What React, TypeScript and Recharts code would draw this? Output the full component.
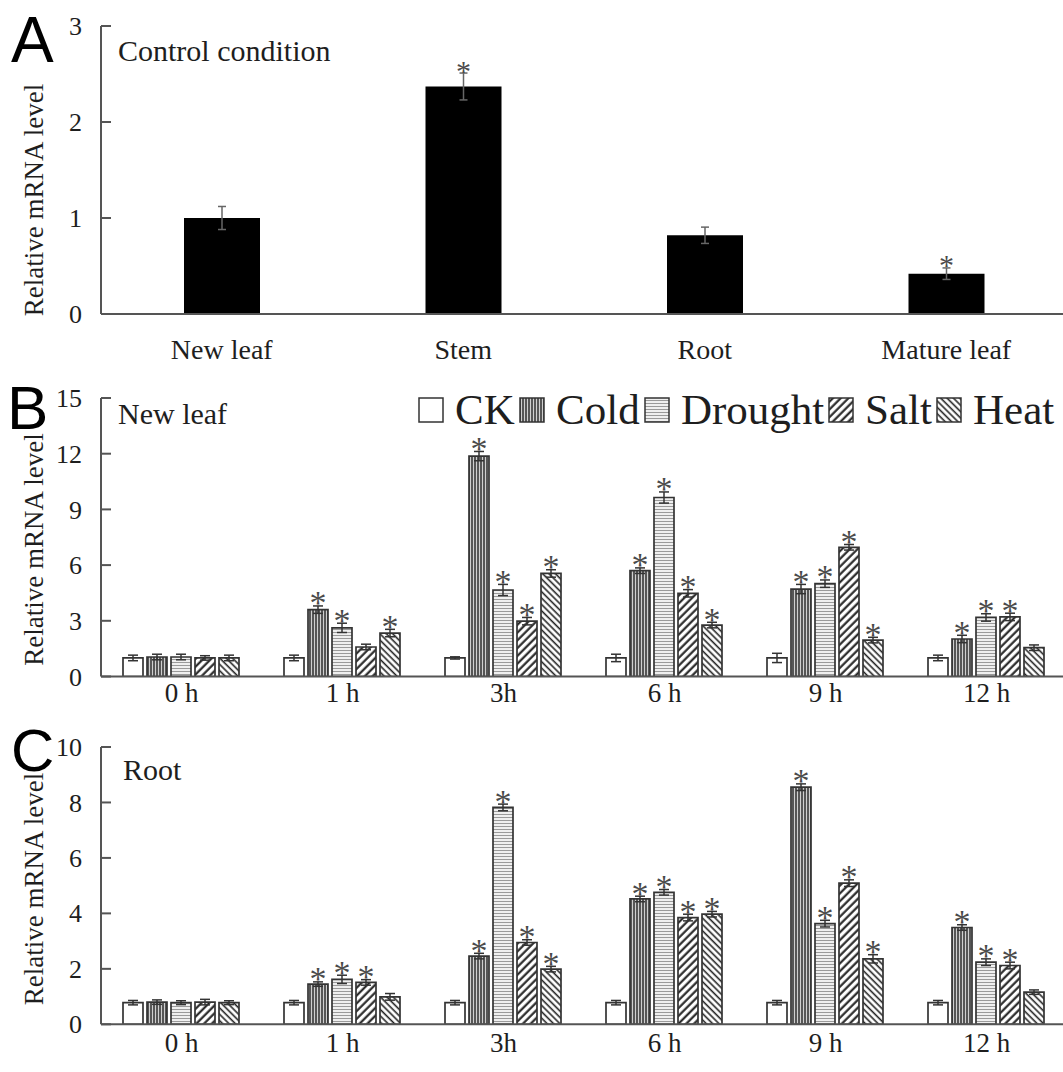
import React from "react";
import { Bar, BarChart, ErrorBar, LabelList, XAxis, YAxis } from "recharts";

const SERIF = '"Liberation Serif", "Times New Roman", serif';
const SANS = '"Liberation Sans", Arial, sans-serif';
const AXIS = "#555";
const INK = "#1e1e1e";

// panel A: control condition
const tissues = ["New leaf", "Stem", "Root", "Mature leaf"];
const tissueLevel = [1.0, 2.37, 0.82, 0.42];
const tissueErr = [0.12, 0.14, 0.085, 0.06];
const tissueSig = [false, true, false, true];

const times = ["0 h", "1 h", "3h", "6 h", "9 h", "12 h"];
const treatments = ["CK", "Cold", "Drought", "Salt", "Heat"];

// panel B: new leaf
const leafCK = [1.0, 1.0, 1.0, 1.0, 1.0, 1.0];
const leafCold = [1.05, 3.6, 11.87, 5.7, 4.71, 2.02];
const leafDrought = [1.05, 2.62, 4.66, 9.64, 5.0, 3.18];
const leafSalt = [1.0, 1.59, 2.98, 4.48, 6.96, 3.21];
const leafHeat = [1.0, 2.34, 5.55, 2.77, 1.96, 1.55];
const leafCKErr = [0.15, 0.15, 0.06, 0.2, 0.25, 0.15];
const leafColdErr = [0.15, 0.2, 0.25, 0.15, 0.25, 0.2];
const leafDroughtErr = [0.15, 0.25, 0.3, 0.3, 0.2, 0.2];
const leafSaltErr = [0.12, 0.15, 0.2, 0.2, 0.15, 0.2];
const leafHeatErr = [0.15, 0.2, 0.2, 0.15, 0.15, 0.15];
const leafSig = [
  [false, false, false, false, false, false],
  [false, true, true, true, true, true],
  [false, true, true, true, true, true],
  [false, false, true, true, true, true],
  [false, true, true, true, true, false],
];

// panel C: root
const rootCK = [0.78, 0.78, 0.78, 0.78, 0.78, 0.78];
const rootCold = [0.8, 1.45, 2.46, 4.52, 8.55, 3.49];
const rootDrought = [0.78, 1.62, 7.82, 4.76, 3.63, 2.24];
const rootSalt = [0.8, 1.51, 2.95, 3.85, 5.09, 2.12];
const rootHeat = [0.78, 0.99, 1.99, 3.97, 2.36, 1.16];
const rootCKErr = [0.08, 0.08, 0.08, 0.08, 0.08, 0.08];
const rootColdErr = [0.08, 0.08, 0.1, 0.1, 0.12, 0.1];
const rootDroughtErr = [0.07, 0.15, 0.12, 0.1, 0.12, 0.12];
const rootSaltErr = [0.1, 0.1, 0.1, 0.12, 0.12, 0.12];
const rootHeatErr = [0.07, 0.12, 0.1, 0.1, 0.15, 0.08];
const rootSig = [
  [false, false, false, false, false, false],
  [false, true, true, true, true, true],
  [false, true, true, true, true, true],
  [false, true, true, true, true, true],
  [false, false, true, true, true, false],
];

const ticksA = [0, 1, 2, 3];
const ticksB = [0, 3, 6, 9, 12, 15];
const ticksC = [0, 2, 4, 6, 8, 10];

const fills: Record<string, string> = {
  CK: "#ffffff",
  Cold: "url(#pCold)",
  Drought: "url(#pDrought)",
  Salt: "url(#pSalt)",
  Heat: "url(#pHeat)",
};

function buildRows(values: number[][], errs: number[][]) {
  return times.map((t, i) => {
    const row: Record<string, any> = { name: t };
    treatments.forEach((k, s) => {
      row[k] = values[s][i];
      row[k + "Err"] = errs[s][i];
    });
    return row;
  });
}

const leafVals = [leafCK, leafCold, leafDrought, leafSalt, leafHeat];
const leafErrs = [leafCKErr, leafColdErr, leafDroughtErr, leafSaltErr, leafHeatErr];
const rootVals = [rootCK, rootCold, rootDrought, rootSalt, rootHeat];
const rootErrs = [rootCKErr, rootColdErr, rootDroughtErr, rootSaltErr, rootHeatErr];
const leafRows = buildRows(leafVals, leafErrs);
const rootRows = buildRows(rootVals, rootErrs);

const tissueRows = tissues.map((t, i) => ({ name: t, level: tissueLevel[i], err: tissueErr[i] }));

// asterisk above the error bar of significant bars
const star = (sig: boolean[], vals: number[], errs: number[], fontSize: number) => (props: any) => {
  const i = props.index;
  if (i == null || !sig[i]) return null;
  const vb = props.viewBox ?? props;
  const { x, y, width, height } = vb;
  if (!height) return null;
  const top = y - (errs[i] * height) / vals[i];
  return (
    <text x={x + width / 2} y={top + fontSize * 0.25} textAnchor="middle" fontSize={fontSize} fill="#4a4a4a" fontFamily={SERIF}>
      *
    </text>
  );
};

const YTick = (props: any) => {
  const { x, y, payload } = props;
  return (
    <g>
      <line x1={x + 19} x2={x + 29} y1={y} y2={y} stroke={AXIS} strokeWidth={2} />
      <text x={x} y={y} dy="0.35em" textAnchor="end" fontSize={26} fontFamily={SERIF} fill={INK}>
        {payload.value}
      </text>
    </g>
  );
};

const yLabel = (cy: number) => () => (
  <text
    x={43}
    y={cy}
    transform={`rotate(-90 43 ${cy})`}
    textAnchor="middle"
    fontSize={27}
    fontFamily={SERIF}
    fill={INK}
  >
    Relative mRNA level
  </text>
);

function ControlChart() {
  return (
    <BarChart width={1067} height={370} data={tissueRows} margin={{ top: 26, right: 0, left: 41, bottom: 16 }}>
      <XAxis
        dataKey="name"
        height={40}
        interval={0}
        tickLine={false}
        tickSize={0}
        tickMargin={25}
        axisLine={{ stroke: AXIS, strokeWidth: 2 }}
        tick={{ fontSize: 28, fill: INK, fontFamily: SERIF }}
      />
      <YAxis
        width={60}
        domain={[0, 3]}
        ticks={ticksA}
        allowDataOverflow
        tickLine={false}
        tickSize={0}
        tickMargin={19}
        axisLine={{ stroke: AXIS, strokeWidth: 2 }}
        tick={<YTick />}
        label={{ value: "Relative mRNA level", content: yLabel(200) }}
      />
      <Bar dataKey="level" fill="#000" barSize={76} isAnimationActive={false}>
        <ErrorBar dataKey="err" width={4} stroke="#666" strokeWidth={1.5} />
        <LabelList dataKey="level" content={star(tissueSig, tissueLevel, tissueErr, 30)} />
      </Bar>
    </BarChart>
  );
}

function TimeChart({
  rows,
  vals,
  errs,
  sig,
  max,
  ticks,
  height,
  top,
  bottom,
  labelGap,
  labelY,
}: {
  rows: any[];
  vals: number[][];
  errs: number[][];
  sig: boolean[][];
  max: number;
  ticks: number[];
  height: number;
  top: number;
  bottom: number;
  labelGap: number;
  labelY: number;
}) {
  return (
    <BarChart
      width={1067}
      height={height}
      data={rows}
      margin={{ top, right: 0, left: 41, bottom }}
      barCategoryGap={22}
      barGap={4}
    >
      <XAxis
        dataKey="name"
        height={40}
        interval={0}
        tickLine={false}
        tickSize={0}
        tickMargin={labelGap}
        axisLine={{ stroke: AXIS, strokeWidth: 2 }}
        tick={{ fontSize: 27, fill: INK, fontFamily: SERIF }}
      />
      <YAxis
        width={60}
        domain={[0, max]}
        ticks={ticks}
        allowDataOverflow
        tickLine={false}
        tickSize={0}
        tickMargin={19}
        axisLine={{ stroke: AXIS, strokeWidth: 2 }}
        tick={<YTick />}
        label={{ value: "Relative mRNA level", content: yLabel(labelY) }}
      />
      {treatments.map((k, s) => (
        <Bar key={k} dataKey={k} fill={fills[k]} stroke="#333" strokeWidth={1.7} isAnimationActive={false}>
          <ErrorBar dataKey={k + "Err"} width={5} stroke="#333" strokeWidth={1.5} />
          <LabelList dataKey={k} content={star(sig[s], vals[s], errs[s], 34)} />
        </Bar>
      ))}
    </BarChart>
  );
}

function Patterns() {
  return (
    <defs>
      <pattern id="pCold" width="3" height="6" patternUnits="userSpaceOnUse">
        <rect width="3" height="6" fill="#cfcfcf" />
        <line x1="1" y1="0" x2="1" y2="6" stroke="#222" strokeWidth="1.4" />
      </pattern>
      <pattern id="pDrought" width="6" height="3" patternUnits="userSpaceOnUse">
        <rect width="6" height="3" fill="#efefef" />
        <line x1="0" y1="1.5" x2="6" y2="1.5" stroke="#9a9a9a" strokeWidth="1" />
      </pattern>
      <pattern id="pSalt" width="5.5" height="6" patternUnits="userSpaceOnUse" patternTransform="rotate(45)">
        <rect width="5.5" height="6" fill="#fff" />
        <line x1="1.5" y1="0" x2="1.5" y2="6" stroke="#1e1e1e" strokeWidth="2.1" />
      </pattern>
      <pattern id="pHeat" width="4.5" height="6" patternUnits="userSpaceOnUse" patternTransform="rotate(-45)">
        <rect width="4.5" height="6" fill="#fff" />
        <line x1="1.2" y1="0" x2="1.2" y2="6" stroke="#222" strokeWidth="1.6" />
      </pattern>
    </defs>
  );
}

function Legend() {
  const boxX = [419, 520, 645, 829, 937];
  const textX = [455, 556, 681, 865, 973];
  return (
    <g>
      {treatments.map((k, i) => (
        <g key={k}>
          <rect x={boxX[i]} y={398} width={24} height={24} fill={fills[k]} stroke="#333" strokeWidth={1.5} />
          <text x={textX[i]} y={424} fontSize={43} fontFamily={SERIF} fill={INK}>
            {k}
          </text>
        </g>
      ))}
    </g>
  );
}

export default function App() {
  return (
    <div
      style={{
        position: "absolute",
        left: 0,
        top: 0,
        width: 1063,
        height: 1072,
        overflow: "hidden",
        background: "#fff",
      }}
    >
      <div style={{ position: "absolute", left: 0, top: 0 }}>
        <ControlChart />
      </div>
      <div style={{ position: "absolute", left: 0, top: 370 }}>
        <TimeChart
          rows={leafRows}
          vals={leafVals}
          errs={leafErrs}
          sig={leafSig}
          max={15}
          ticks={ticksB}
          height={360}
          top={28}
          bottom={13.5}
          labelGap={6}
          labelY={179.5}
        />
      </div>
      <div style={{ position: "absolute", left: 0, top: 720 }}>
        <TimeChart
          rows={rootRows}
          vals={rootVals}
          errs={rootErrs}
          sig={rootSig}
          max={10}
          ticks={ticksC}
          height={352}
          top={27}
          bottom={7.7}
          labelGap={9}
          labelY={169}
        />
      </div>
      <svg width={1063} height={1072} style={{ position: "absolute", left: 0, top: 0, pointerEvents: "none" }}>
        <Patterns />
        <text x={11} y={62} fontSize={64} fontFamily={SANS} fill="#000">A</text>
        <text x={7} y={429} fontSize={62} fontFamily={SANS} fill="#000">B</text>
        <text x={11} y={771} fontSize={60} fontFamily={SANS} fill="#000">C</text>
        <text x={118} y={61} fontSize={30} fontFamily={SERIF} fill={INK}>Control condition</text>
        <text x={118} y={424} fontSize={30} fontFamily={SERIF} fill={INK}>New leaf</text>
        <text x={123} y={780} fontSize={30} fontFamily={SERIF} fill={INK}>Root</text>
        <Legend />
      </svg>
    </div>
  );
}
